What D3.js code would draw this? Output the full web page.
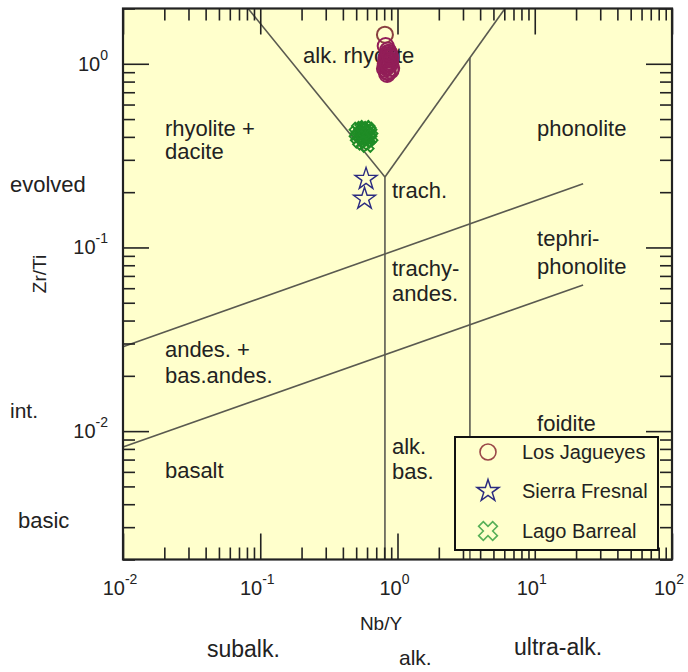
<!DOCTYPE html>
<html>
<head>
<meta charset="utf-8">
<script src="https://cdn.jsdelivr.net/npm/d3@7"></script>
<style>
  html, body { margin: 0; padding: 0; background: #ffffff; }
  svg { display: block; font-family: "Liberation Sans", Arial, sans-serif; }
</style>
</head>
<body>
<svg id="chart" width="688" height="672"></svg>
<script>
// ---- Sample data: Nb/Y vs Zr/Ti ----
const losJagueyesNbY = [0.81, 0.82, 0.85, 0.87, 0.83, 0.86, 0.88, 0.84, 0.81, 0.89, 0.85, 0.83, 0.87, 0.90, 0.84, 0.86,
                        0.82, 0.88, 0.85, 0.83, 0.87, 0.84, 0.86, 0.89];
const losJagueyesZrTi = [1.44, 1.25, 1.18, 1.12, 1.08, 1.03, 1.00, 0.97, 0.94, 0.92, 0.90, 1.05, 1.10, 0.95, 0.88, 1.15,
                         1.00, 1.02, 1.07, 0.96, 1.14, 0.91, 0.99, 1.08];

const sierraFresnalNbY = [0.59, 0.575];
const sierraFresnalZrTi = [0.236, 0.184];

const lagoBarrealNbY = [0.50, 0.52, 0.55, 0.57, 0.60, 0.62, 0.53, 0.58, 0.56, 0.61, 0.64, 0.51, 0.59, 0.54, 0.63, 0.57, 0.55, 0.60,
                        0.53, 0.58, 0.62, 0.56];
const lagoBarrealZrTi = [0.42, 0.44, 0.40, 0.43, 0.41, 0.39, 0.38, 0.45, 0.37, 0.44, 0.40, 0.40, 0.38, 0.42, 0.42, 0.39, 0.445, 0.36,
                         0.41, 0.40, 0.43, 0.42];

const seriesNames = ["Los Jagueyes", "Sierra Fresnal", "Lago Barreal"];

// Field boundaries (Nb/Y, Zr/Ti) pairs
const boundaryLeftDiag = [[0.0815, 2.0], [0.81, 0.242]];
const boundaryRightDiag = [[0.81, 0.242], [6.07, 2.0]];
const boundaryAlkSubalk = [[0.81, 0.242], [0.81, 0.002]];
const boundaryUltraAlk = [[3.37, 1.08], [3.37, 0.002]];
const boundaryUpper = [[0.01, 0.0288], [22.5, 0.222]];
const boundaryLower = [[0.01, 0.0082], [22.5, 0.0625]];

// Field names placed in data units
const fieldLabels = [
  ["alk. rhyolite", 0.205, 1.01],
  ["rhyolite +", 0.0202, 0.405],
  ["dacite", 0.0202, 0.3035],
  ["phonolite", 10.4, 0.405],
  ["trach.", 0.912, 0.186],
  ["tephri-", 10.4, 0.102],
  ["phonolite", 10.4, 0.0718],
  ["trachy-", 0.912, 0.070],
  ["andes.", 0.912, 0.0512],
  ["andes. +", 0.0202, 0.0254],
  ["bas.andes.", 0.0202, 0.0183],
  ["foidite", 10.4, 0.01004],
  ["alk.", 0.912, 0.00752],
  ["bas.", 0.912, 0.0055],
  ["basalt", 0.0202, 0.00557]
];

const xDecades = [0.01, 0.1, 1, 10, 100];
const xExponents = ["-2", "-1", "0", "1", "2"];
const yDecades = [0.01, 0.1, 1];
const yExponents = ["-2", "-1", "0"];

// ---- Scales ----
const svg = d3.select("#chart");
const x = d3.scaleLog().domain([0.01, 100]).range([123, 672]);
const y = d3.scaleLog().domain([0.002, 2]).range([559.5, 8.5]);

const plotColor = "#ffffcc";
const lineColor = "#5a5a50";
const textColor = "#222222";
const jagColor = "#921e58";
const fresColor = "#2b2b80";
const lagoColor = "#1f8c26";

// plot background
svg.append("rect")
  .attr("x", x.range()[0]).attr("y", y.range()[1])
  .attr("width", x.range()[1] - x.range()[0])
  .attr("height", y.range()[0] - y.range()[1])
  .attr("fill", plotColor);

// ---- Field boundaries ----
const line = d3.line().x(d => x(d[0])).y(d => y(d[1]));
const bounds = [boundaryLeftDiag, boundaryRightDiag, boundaryAlkSubalk, boundaryUltraAlk, boundaryUpper, boundaryLower];
svg.append("g").selectAll("path").data(bounds).join("path")
  .attr("d", line)
  .attr("fill", "none")
  .attr("stroke", lineColor)
  .attr("stroke-width", 1.6);

// ---- Field labels ----
svg.append("g").selectAll("text").data(fieldLabels).join("text")
  .attr("x", d => x(d[1]))
  .attr("y", d => y(d[2]))
  .attr("font-size", 22)
  .attr("fill", textColor)
  .text(d => d[0]);

// ---- Axes ticks (inward on all four sides) ----
const minorX = [];
for (let e = -2; e < 2; e++) for (let m = 2; m <= 9; m++) minorX.push(m * Math.pow(10, e));
const minorY = [];
for (let e = -3; e < 1; e++) for (let m = 2; m <= 9; m++) {
  const v = m * Math.pow(10, e);
  if (v >= 0.002 && v <= 2) minorY.push(v);
}
const minorLen = 12, majorLen = 26;

function styleAxis(g) {
  g.select(".domain").remove();
  g.selectAll("line").attr("stroke", "#222").attr("stroke-width", 1.6);
}

const bottomY = y.range()[0], topY = y.range()[1];
const leftX = x.range()[0], rightX = x.range()[1];

svg.append("g").attr("transform", `translate(0,${bottomY})`)
  .call(d3.axisBottom(x).tickValues(minorX).tickSize(-minorLen).tickFormat(""))
  .call(styleAxis);
svg.append("g").attr("transform", `translate(0,${bottomY})`)
  .call(d3.axisBottom(x).tickValues(xDecades).tickSize(-majorLen).tickFormat(""))
  .call(styleAxis);
svg.append("g").attr("transform", `translate(0,${topY})`)
  .call(d3.axisTop(x).tickValues(minorX).tickSize(-minorLen).tickFormat(""))
  .call(styleAxis);
svg.append("g").attr("transform", `translate(0,${topY})`)
  .call(d3.axisTop(x).tickValues(xDecades).tickSize(-majorLen).tickFormat(""))
  .call(styleAxis);
svg.append("g").attr("transform", `translate(${leftX},0)`)
  .call(d3.axisLeft(y).tickValues(minorY).tickSize(-minorLen).tickFormat(""))
  .call(styleAxis);
svg.append("g").attr("transform", `translate(${leftX},0)`)
  .call(d3.axisLeft(y).tickValues(yDecades).tickSize(-majorLen).tickFormat(""))
  .call(styleAxis);
svg.append("g").attr("transform", `translate(${rightX},0)`)
  .call(d3.axisRight(y).tickValues(minorY).tickSize(-minorLen).tickFormat(""))
  .call(styleAxis);
svg.append("g").attr("transform", `translate(${rightX},0)`)
  .call(d3.axisRight(y).tickValues(yDecades).tickSize(-majorLen).tickFormat(""))
  .call(styleAxis);

// ---- Data points ----
const jag = losJagueyesNbY.map((v, i) => [v, losJagueyesZrTi[i]]);
const fres = sierraFresnalNbY.map((v, i) => [v, sierraFresnalZrTi[i]]);
const lago = lagoBarrealNbY.map((v, i) => [v, lagoBarrealZrTi[i]]);

const starPath = d3.symbol(d3.symbolStar, 150)();
const crossPath = d3.symbol(d3.symbolCross, 110)();

svg.append("g").selectAll("path").data(lago).join("path")
  .attr("d", crossPath)
  .attr("transform", d => `translate(${x(d[0])},${y(d[1])}) rotate(45)`)
  .attr("fill", "none")
  .attr("stroke", lagoColor)
  .attr("stroke-width", 1.8);

svg.append("g").selectAll("path").data(fres).join("path")
  .attr("d", starPath)
  .attr("transform", d => `translate(${x(d[0])},${y(d[1])})`)
  .attr("fill", "none")
  .attr("stroke", fresColor)
  .attr("stroke-width", 1.4);

svg.append("g").selectAll("circle").data(jag).join("circle")
  .attr("cx", d => x(d[0]))
  .attr("cy", d => y(d[1]))
  .attr("r", 8)
  .attr("fill", "none")
  .attr("stroke", (d, i) => i === 0 ? "#8a4040" : jagColor)
  .attr("stroke-width", 2);

// ---- Frame ----
svg.append("rect")
  .attr("x", leftX).attr("y", topY)
  .attr("width", rightX - leftX).attr("height", bottomY - topY)
  .attr("fill", "none").attr("stroke", "#222").attr("stroke-width", 2.2);

// ---- Tick labels (powers of ten) ----
const xl = svg.append("g").attr("fill", textColor);
xDecades.forEach((v, i) => {
  const t = xl.append("text")
    .attr("x", x(v) - 3).attr("y", 595)
    .attr("text-anchor", "middle")
    .attr("font-size", 20);
  t.append("tspan").text("10");
  t.append("tspan").attr("dy", -11).attr("font-size", 14).text(xExponents[i]);
});
const yl = svg.append("g").attr("fill", textColor);
yDecades.forEach((v, i) => {
  const t = yl.append("text")
    .attr("x", 108).attr("y", y(v) + 7)
    .attr("text-anchor", "end")
    .attr("font-size", 20);
  t.append("tspan").text("10");
  t.append("tspan").attr("dy", -11).attr("font-size", 14).text(yExponents[i]);
});

// ---- Axis titles and side annotations ----
svg.append("text")
  .attr("transform", "translate(46,274) rotate(-90)")
  .attr("text-anchor", "middle").attr("font-size", 19).attr("fill", textColor)
  .text("Zr/Ti");
svg.append("text")
  .attr("x", 381).attr("y", 630)
  .attr("text-anchor", "middle").attr("font-size", 19).attr("fill", textColor)
  .text("Nb/Y");

const sideNotes = [
  ["evolved", 10, 192, 22],
  ["int.", 10, 418, 21],
  ["basic", 18, 528, 22],
  ["subalk.", 207, 657, 23],
  ["alk.", 399, 665, 21],
  ["ultra-alk.", 514, 655, 23]
];
svg.append("g").selectAll("text").data(sideNotes).join("text")
  .attr("x", d => d[1]).attr("y", d => d[2])
  .attr("font-size", d => d[3]).attr("fill", textColor)
  .text(d => d[0]);

// ---- Legend ----
const lg = svg.append("g");
lg.append("rect")
  .attr("x", 455).attr("y", 437).attr("width", 203).attr("height", 113)
  .attr("fill", plotColor).attr("stroke", "#111").attr("stroke-width", 2);
const rowY = [452, 491, 531];
lg.append("circle").attr("cx", 488).attr("cy", rowY[0]).attr("r", 8)
  .attr("fill", "none").attr("stroke", "#9a4848").attr("stroke-width", 1.6);
lg.append("path").attr("d", d3.symbol(d3.symbolStar, 150)())
  .attr("transform", `translate(488,${rowY[1]})`)
  .attr("fill", "none").attr("stroke", fresColor).attr("stroke-width", 1.5);
lg.append("path").attr("d", d3.symbol(d3.symbolCross, 220)())
  .attr("transform", `translate(488,${rowY[2]}) rotate(45)`)
  .attr("fill", "none").attr("stroke", "#58b058").attr("stroke-width", 1.6);
lg.selectAll("text.lbl").data(seriesNames).join("text")
  .attr("class", "lbl")
  .attr("x", 522).attr("y", (d, i) => rowY[i] + 7)
  .attr("font-size", 20).attr("fill", textColor)
  .text(d => d);
</script>
</body>
</html>
